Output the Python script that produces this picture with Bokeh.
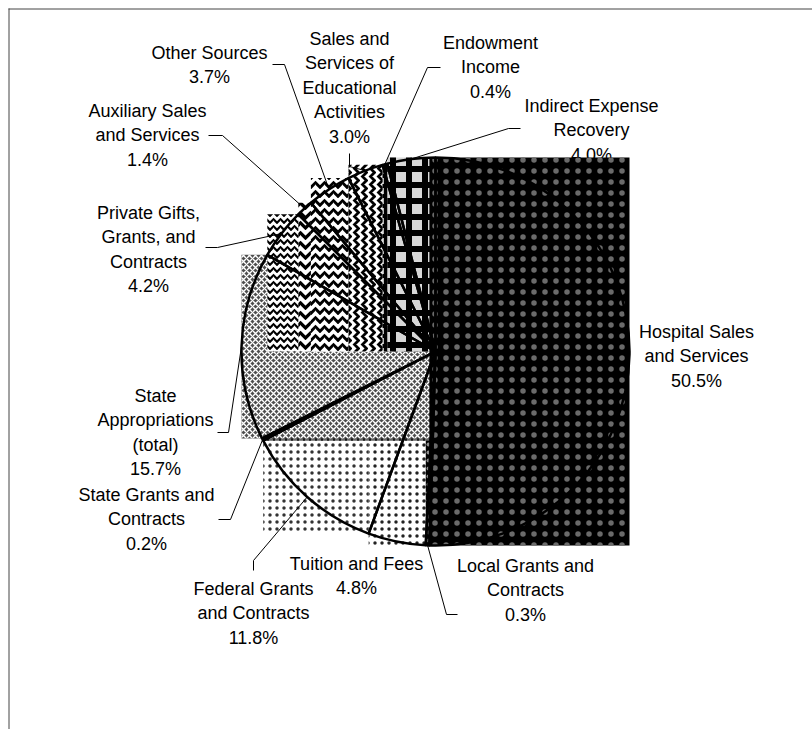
import math
from bokeh.plotting import figure
from bokeh.models import Range1d
from bokeh.core.properties import value
from bokeh.embed import file_html
from bokeh.resources import INLINE

# ---------------- data ----------------
categories = [
    "Hospital Sales and Services",
    "Local Grants and Contracts",
    "Tuition and Fees",
    "Federal Grants and Contracts",
    "State Grants and Contracts",
    "State Appropriations (total)",
    "Private Gifts, Grants, and Contracts",
    "Auxiliary Sales and Services",
    "Other Sources",
    "Sales and Services of Educational Activities",
    "Endowment Income",
    "Indirect Expense Recovery",
]
shares = [50.5, 0.3, 4.8, 11.8, 0.2, 15.7, 4.2, 1.4, 3.7, 3.0, 0.4, 4.0]
label_lines = [
    ["Hospital Sales", "and Services"],
    ["Local Grants and", "Contracts"],
    ["Tuition and Fees"],
    ["Federal Grants", "and Contracts"],
    ["State Grants and", "Contracts"],
    ["State", "Appropriations", "(total)"],
    ["Private Gifts,", "Grants, and", "Contracts"],
    ["Auxiliary Sales", "and Services"],
    ["Other Sources"],
    ["Sales and", "Services of", "Educational", "Activities"],
    ["Endowment", "Income"],
    ["Indirect Expense", "Recovery"],
]

# ---------------- styles (fill, hatch) ----------------
styles = [
    dict(fill_color="black", hatch_pattern="dot", hatch_color="#6a6a6a", hatch_scale=11, hatch_weight=1.0),
    dict(fill_color="black", hatch_pattern="dot", hatch_color="#8a8a8a", hatch_scale=8, hatch_weight=1.0),
    dict(fill_color="white", hatch_pattern="dot", hatch_color="#222222", hatch_scale=7, hatch_weight=2.0),
    dict(fill_color="white", hatch_pattern="dot", hatch_color="#333333", hatch_scale=7, hatch_weight=2.0),
    dict(fill_color="#666666", hatch_pattern="cross", hatch_color="black", hatch_scale=6, hatch_weight=1.5),
    dict(fill_color="#4e4e4e", hatch_pattern="diagonal_cross", hatch_color="white", hatch_scale=6, hatch_weight=1.4),
    dict(fill_color="white", hatch_pattern="horizontal_wave", hatch_color="black", hatch_scale=7, hatch_weight=2.2),
    dict(fill_color="white", hatch_pattern="horizontal_wave", hatch_color="black", hatch_scale=10, hatch_weight=3.2),
    dict(fill_color="white", hatch_pattern="horizontal_wave", hatch_color="black", hatch_scale=9, hatch_weight=3.0),
    dict(fill_color="white", hatch_pattern="vertical_wave", hatch_color="black", hatch_scale=8, hatch_weight=2.8),
    dict(fill_color="#bbbbbb", hatch_pattern="cross", hatch_color="black", hatch_scale=10, hatch_weight=4.0),
    dict(fill_color="#d8d8d8", hatch_pattern="cross", hatch_color="black", hatch_scale=16, hatch_weight=6.0),
]
draw_order = [3, 2, 1, 4, 5, 6, 7, 8, 9, 10, 11, 0]

# ---------------- layout (page pixels) ----------------
W, H = 812, 729
def X(px):
    return px
def Y(py):
    return H - py

CX, CY, R = X(435), Y(351), 194.0
LINE_H = 24.6
label_anchor = [
    (696, 331), (525, 565), (356, 563), (253, 588), (146, 494), (155, 395),
    (148, 212), (147, 110), (209, 52), (349, 38), (490, 42), (591, 105),
]
leader_start = [
    None, [(457, 614), (446, 614)], None, [(253, 570), (253, 560)],
    [(218, 519), (230, 519)], [(217, 432), (228, 432)], [(205, 247), (217, 247)],
    [(208, 135), (222, 135)], [(272, 64), (284, 64)], [(349, 153), (349, 166)],
    [(440, 67), (427, 67)], [(520, 128), (508, 128)],
]

p = figure(width=W, height=H, output_backend="svg", toolbar_location=None,
           x_range=Range1d(0, W), y_range=Range1d(0, H), min_border=0)
p.axis.visible = False
p.grid.visible = False
p.outline_line_color = None
p.background_fill_color = "white"

total = sum(shares)
cum = [0.0]
for s in shares:
    cum.append(cum[-1] + s / total)

def pt(theta_deg):
    t = math.radians(theta_deg)
    return CX + R * math.sin(t), CY + R * math.cos(t)

# labels (drawn first, pattern boxes may overlap them as in the original)
tx, ty, tt = [], [], []
for i in range(len(shares)):
    lines = label_lines[i] + [f"{shares[i]:.1f}%"]
    ax, ay = label_anchor[i]
    for k, s in enumerate(lines):
        tx.append(X(ax))
        ty.append(Y(ay + k * LINE_H))
        tt.append(s)
p.text(x=tx, y=ty, text=tt, text_font=value("Liberation Sans"), text_font_size="18px",
       text_align="center", text_baseline="middle", text_color="black")

# pattern boxes (bounding box of each slice)
boxes = []
for i in range(len(shares)):
    t0, t1 = cum[i] * 360.0, cum[i + 1] * 360.0
    pts = [(CX, CY), pt(t0), pt(t1)]
    for c in (0, 90, 180, 270, 360):
        if t0 < c < t1:
            pts.append(pt(c))
    xs = [q[0] for q in pts]
    ys = [q[1] for q in pts]
    boxes.append((min(xs), max(xs), min(ys), max(ys)))

for i in draw_order:
    l, r, b, t = boxes[i]
    p.quad(left=[l], right=[r], bottom=[b], top=[t], line_color=None, **styles[i])

# wedge outlines
for i in range(len(shares)):
    a0 = math.pi / 2 - 2 * math.pi * cum[i]
    a1 = math.pi / 2 - 2 * math.pi * cum[i + 1]
    p.wedge(x=CX, y=CY, radius=R, start_angle=a0, end_angle=a1, direction="clock",
            fill_color=None, line_color="black", line_width=2.5)

# leader lines
for i in range(len(shares)):
    if leader_start[i] is None:
        continue
    mid = (cum[i] + cum[i + 1]) / 2 * 360.0
    ex, ey = pt(mid)
    xs = [X(a) for a, _ in leader_start[i]] + [ex]
    ys = [Y(b) for _, b in leader_start[i]] + [ey]
    p.line(xs, ys, line_color="black", line_width=1)

# frame (left and top edges, continuing past the window)
p.line([X(8.5), X(8.5)], [Y(8), 0], line_color="#444444", line_width=1)
p.line([X(8), W], [Y(8.5), Y(8.5)], line_color="#444444", line_width=1)

open("out.html", "w").write(file_html(p, INLINE))
